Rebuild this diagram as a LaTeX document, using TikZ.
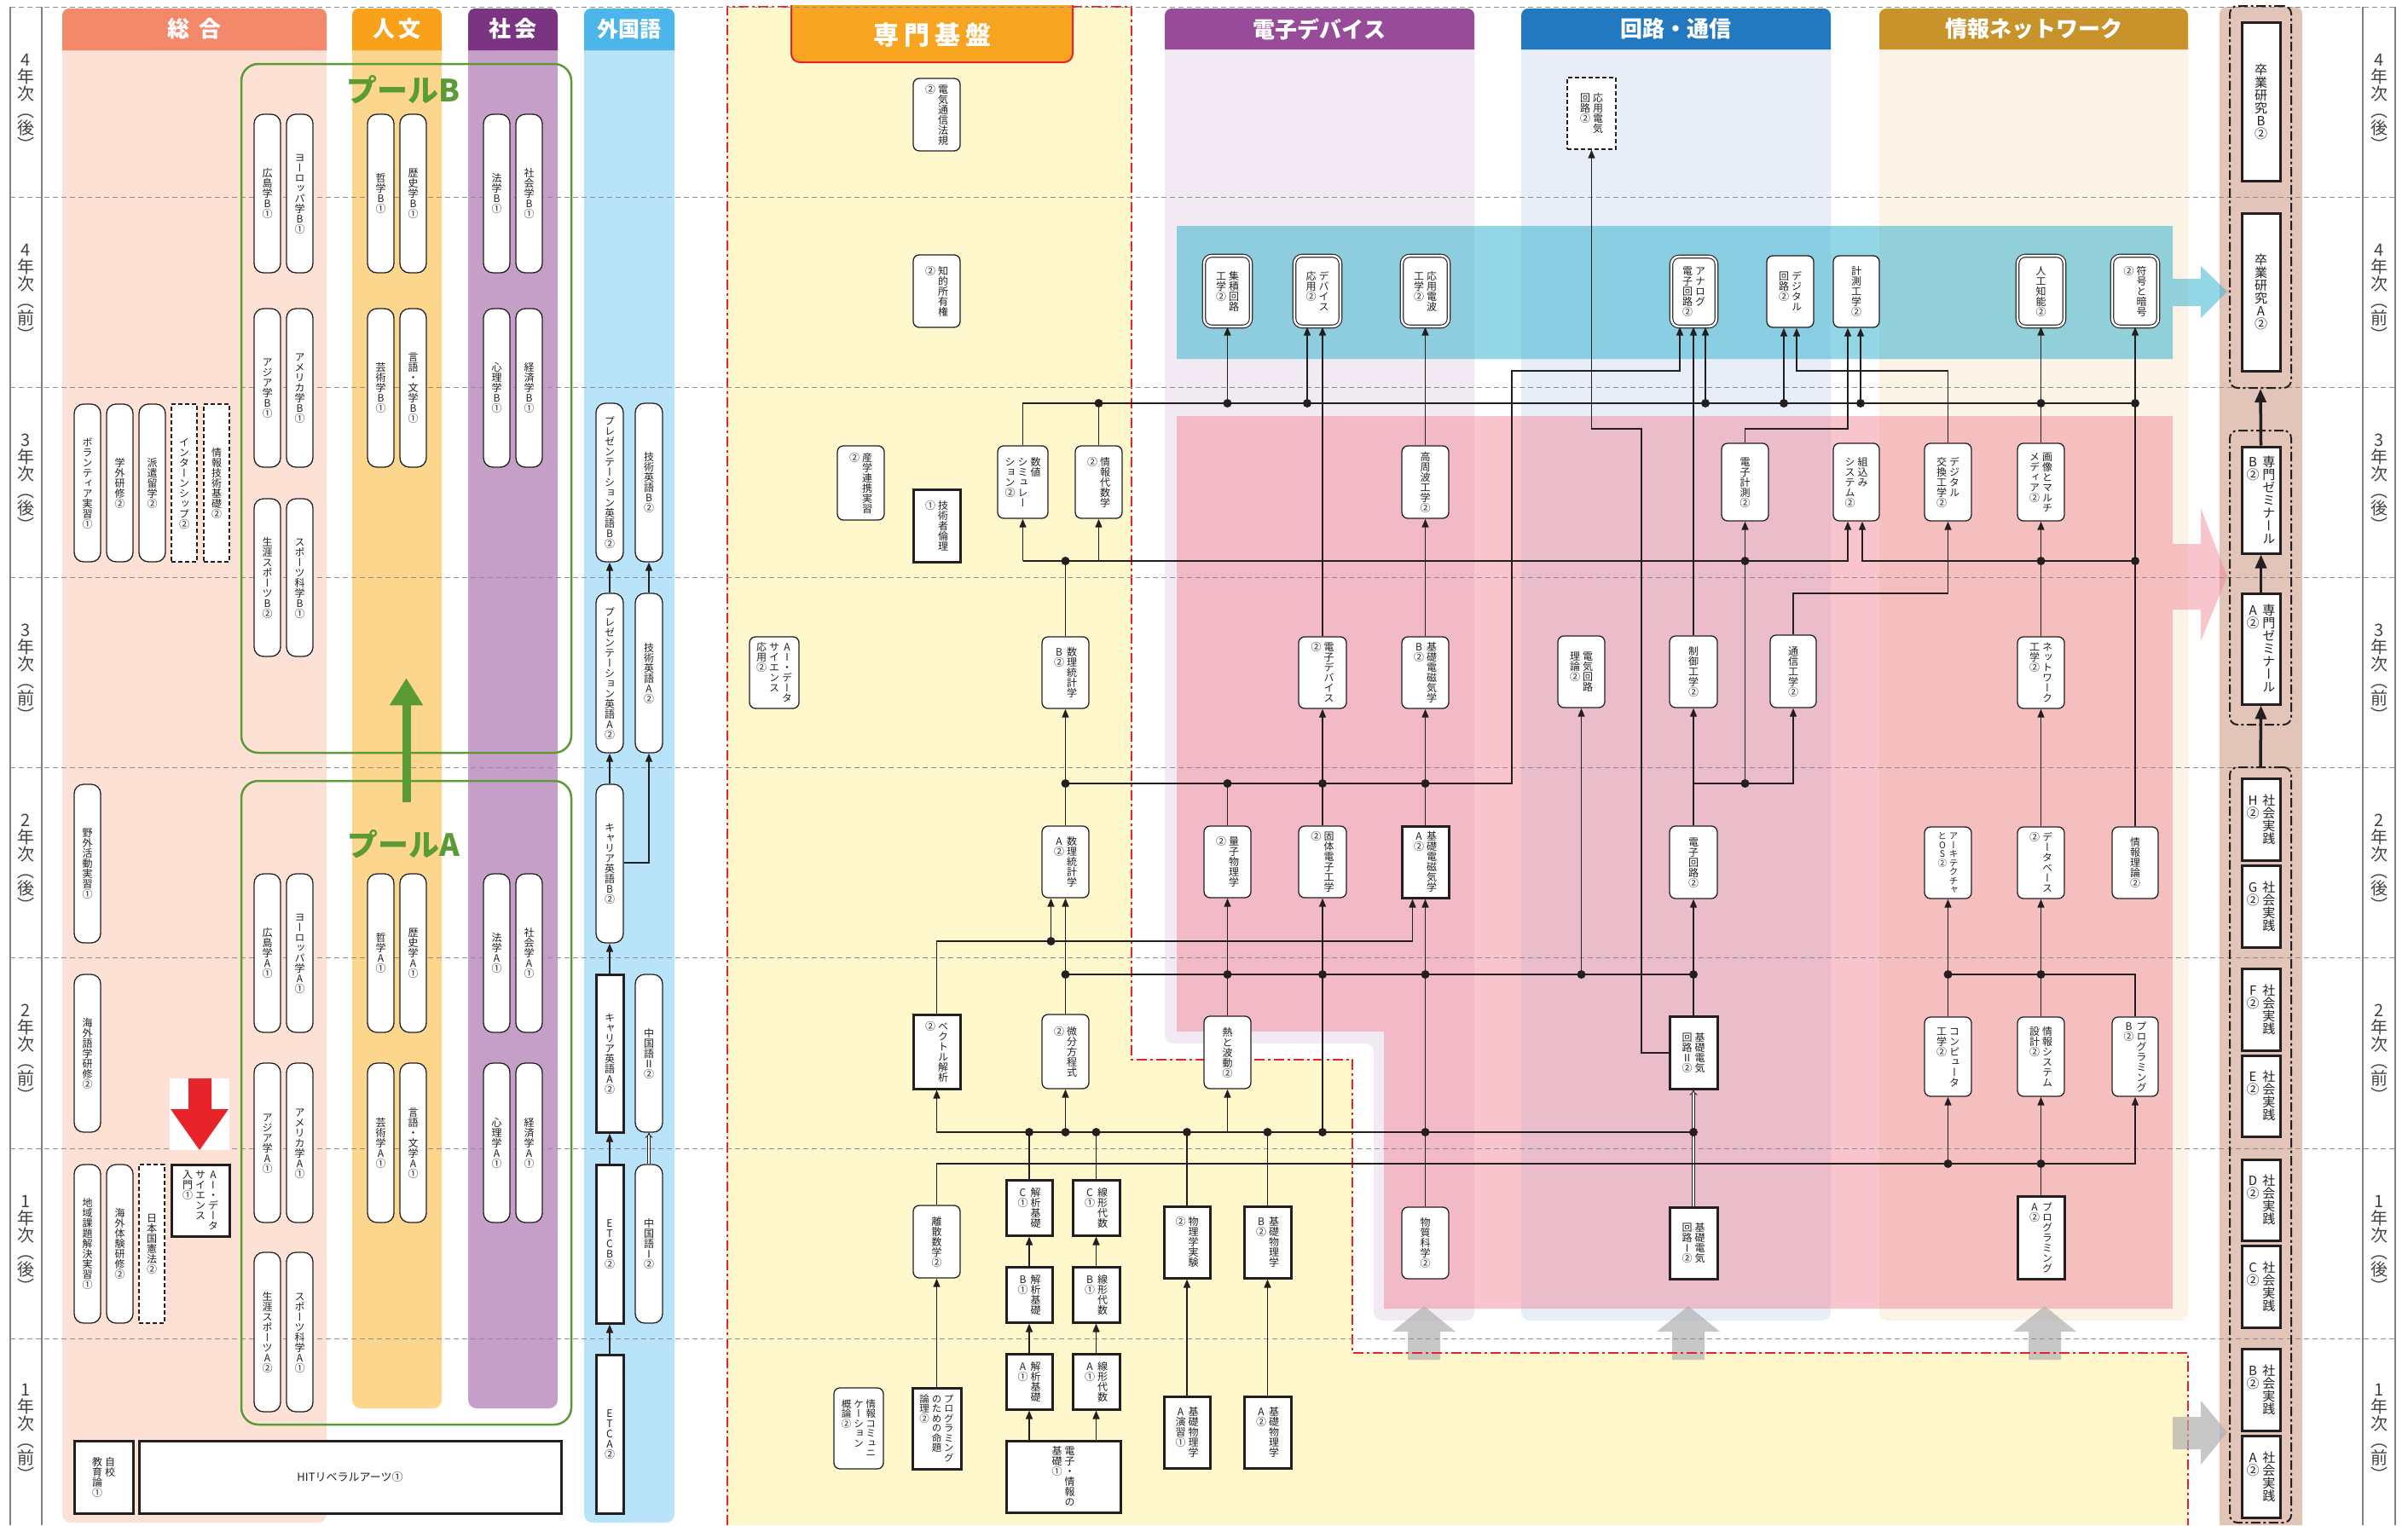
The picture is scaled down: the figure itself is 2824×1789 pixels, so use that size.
\documentclass[tikz,border=0pt]{standalone}
\usepackage{fontspec}
\setmainfont{Noto Sans CJK JP}
\newfontfamily\jp{Noto Sans CJK JP}
\newfontfamily\jpv[RawFeature=+vert]{Noto Sans CJK JP}
\usetikzlibrary{arrows.meta}
\definecolor{ink}{HTML}{231F20}
\definecolor{sogoH}{HTML}{F4886A}\definecolor{sogoB}{HTML}{FDE1D5}
\definecolor{jinH}{HTML}{F9A11B}\definecolor{jinB}{HTML}{FDD68E}
\definecolor{shaH}{HTML}{7B3481}\definecolor{shaB}{HTML}{C69FC9}
\definecolor{gaiH}{HTML}{4CB5E9}\definecolor{gaiB}{HTML}{B8E3F9}
\definecolor{yel}{HTML}{FFF8CC}\definecolor{redd}{HTML}{E8212B}\definecolor{tabO}{HTML}{F7A520}
\definecolor{edH}{HTML}{974B98}\definecolor{edB}{HTML}{F2EAF3}
\definecolor{kaH}{HTML}{2379BF}\definecolor{kaB}{HTML}{E7EEF8}
\definecolor{joH}{HTML}{C8932B}\definecolor{joB}{HTML}{FAF3E6}
\definecolor{brownC}{HTML}{E3C4B9}
\definecolor{poolG}{HTML}{5B9B35}
\definecolor{redA}{HTML}{E8242A}
\definecolor{pinkO}{HTML}{F08090}
\definecolor{tealO}{HTML}{3CB5D0}
\definecolor{grayA}{HTML}{B0B0B0}
\definecolor{rowc}{HTML}{8F8F8F}
\newdimen\tvw
\def\tvloop#1{\ifx\relax#1\else\hbox to\tvw{\hss\vrule width0pt height.88em depth.12em\relax#1\hss}\expandafter\tvloop\fi}
\newcommand\tcol[1]{\vtop{\offinterlineskip\tvloop#1\relax}}
\newcommand\tvA[1]{\hbox{\tvw=1em\relax\tcol{#1}}}
\newcommand\tvB[2]{\hbox{\tvw=1em\relax\tcol{#2}\kern.25em\tcol{#1}}}
\newcommand\tvC[3]{\hbox{\tvw=1em\relax\tcol{#3}\kern.25em\tcol{#2}\kern.25em\tcol{#1}}}
\newcommand\bx[7]{\node[#1,minimum width={#5-#3},minimum height={#6-#4}] (#2) at ({(#3+#5)/2},{(#4+#6)/2}) {#7};}
\newcommand\ylab[4]{\node[font=\jpv\fontsize{20}{20}\selectfont,text=ink!85,inner sep=0pt] (#1) at (#2,#3) {\tvA{#4}};}
\newcommand\jd[1]{\fill[ink] (#1) circle (5pt);}
\tikzset{
 base/.style={inner sep=0pt,font=\jpv\fontsize{12}{12}\selectfont,text=ink},
 rbox/.style={base,draw=ink,line width=1.3pt,rounded corners=7pt,fill=white},
 pill/.style={base,draw=ink,line width=1.3pt,rounded corners=11pt,fill=white},
 sbox/.style={base,draw=ink,line width=3pt,fill=white},
 dashbox/.style={base,draw=ink,line width=1.4pt,dash pattern=on 5pt off 3pt,fill=white},
 dbox/.style={base,draw=ink,line width=1.1pt,double=white,double distance=2.4pt,rounded corners=9pt,fill=white},
 bigbox/.style={sbox,font=\jpv\fontsize{15}{16}\selectfont},
 grp/.style={draw=ink,line width=2pt,dash pattern=on 11pt off 3.5pt on 3pt off 3.5pt,rounded corners=9pt,inner sep=0pt},
 pool/.style={draw=poolG,line width=2.5pt,rounded corners=20pt,inner sep=0pt},
 arr/.style={draw=ink,line width=1.5pt,-{Triangle[length=10pt,width=8pt]}},
 ln/.style={draw=ink,line width=1.5pt},
 dbl/.style={draw=ink,line width=0.9pt,double=white,double distance=2.2pt,-{Implies}},
 tarr/.style={draw=ink,line width=3.5pt,-{Triangle[length=16pt,width=13pt]}},
 hdr/.style={font=\jp\bfseries\fontsize{26}{26}\selectfont,text=white,inner sep=0pt},
 rowline/.style={draw=rowc,line width=1pt,dash pattern=on 6pt off 4pt},
}
\begin{document}
\begin{tikzpicture}[x=1pt,y=-1pt]
\useasboundingbox (0,0) rectangle (2824,1789);
\fill[white] (0,0) rectangle (2824,1789);
% ---------- column backgrounds ----------
\fill[sogoB,rounded corners=10pt] (73,50) -- (73,1786) -- (383,1786) -- (383,50);
\fill[sogoH,rounded corners=8pt] (73,59) -- (73,10) -- (383,10) -- (383,59);
\fill[jinB,rounded corners=10pt] (413,50) -- (413,1652) -- (518,1652) -- (518,50);
\fill[jinH,rounded corners=8pt] (413,59) -- (413,10) -- (518,10) -- (518,59);
\fill[shaB,rounded corners=10pt] (549,50) -- (549,1652) -- (654,1652) -- (654,50);
\fill[shaH,rounded corners=8pt] (549,59) -- (549,10) -- (654,10) -- (654,59);
\fill[gaiB,rounded corners=10pt] (685,50) -- (685,1786) -- (791,1786) -- (791,50);
\fill[gaiH,rounded corners=8pt] (685,59) -- (685,10) -- (791,10) -- (791,59);
\fill[yel] (853,8) -- (1327,8) -- (1327,1243) -- (1586,1243) -- (1586,1587) -- (2566,1587) -- (2566,1789) -- (853,1789) -- cycle;
\fill[edB,rounded corners=10pt] (1366,50) -- (1366,1224) -- (1611,1224) -- (1611,1549) -- (1729,1549) -- (1729,50);
\fill[edH,rounded corners=8pt] (1366,58) -- (1366,10) -- (1729,10) -- (1729,58);
\fill[kaB,rounded corners=10pt] (1784,50) -- (1784,1549) -- (2147,1549) -- (2147,50);
\fill[kaH,rounded corners=8pt] (1784,58) -- (1784,10) -- (2147,10) -- (2147,58);
\fill[joB,rounded corners=10pt] (2204,50) -- (2204,1549) -- (2566,1549) -- (2566,50);
\fill[joH,rounded corners=8pt] (2204,58) -- (2204,10) -- (2566,10) -- (2566,58);
\fill[brownC,rounded corners=8pt] (2603,1789) -- (2603,8) -- (2700,8) -- (2700,1789);
% overlays
\fill[pinkO,fill opacity=.45] (1380,488) -- (2548,488) -- (2548,1535) -- (1623,1535) -- (1623,1210) -- (1380,1210) -- cycle;
\fill[pinkO,fill opacity=.45] (2548,638) -- (2581,638) -- (2581,596) -- (2612,676) -- (2581,752) -- (2581,715) -- (2548,715) -- cycle;
\fill[tealO,fill opacity=.55] (1380,265) -- (2548,265) -- (2548,327) -- (2581,327) -- (2581,312) -- (2612,342) -- (2581,373) -- (2581,359) -- (2548,359) -- (2548,421) -- (1380,421) -- cycle;
\foreach \cx in {1670,1980,2398}{
 \fill[grayA,fill opacity=.7] (\cx-19,1595) -- (\cx-19,1562) -- (\cx-37,1562) -- (\cx,1532) -- (\cx+37,1562) -- (\cx+19,1562) -- (\cx+19,1595) -- cycle;}
% red border of 専門基盤
\draw[redd,line width=2pt,dash pattern=on 12pt off 4pt on 3pt off 4pt] (853,1789) -- (853,8) -- (1327,8) -- (1327,1243) -- (1586,1243) -- (1586,1587) -- (2566,1587) -- (2566,1789);
\fill[grayA,fill opacity=.7] (2548,1662) -- (2581,1662) -- (2581,1643) -- (2612,1680) -- (2581,1718) -- (2581,1700) -- (2548,1700) -- cycle;
\draw[redd,line width=2pt,fill=tabO,rounded corners=10pt] (928,6) -- (928,73) -- (1258,73) -- (1258,6);
% row lines
\foreach \yy in {8,231,454,677,900,1123,1347,1570}{\draw[rowline] (12,\yy) -- (2809,\yy);}
\foreach \xx in {12,49,2771,2809}{\draw[rowc!90!black,line width=1.2pt] (\xx,8) -- (\xx,1789);}
% headers
\node[hdr] (hSogo) at (228,34) {総\hspace{12pt}合};
\node[hdr] (hJin) at (465.5,34) {人\hspace{4pt}文};
\node[hdr] (hSha) at (601.5,34) {社\hspace{4pt}会};
\node[hdr,font=\jp\bfseries\fontsize{25}{25}\selectfont] (hGai) at (738,34) {外国語};
\node[hdr,font=\jp\bfseries\fontsize{30}{30}\selectfont] (hSenmon) at (1093,41) {専\hspace{6pt}門\hspace{6pt}基\hspace{6pt}盤};
\node[hdr] (hEd) at (1547.5,34) {電子デバイス};
\node[hdr] (hKa) at (1965.5,34) {回路・通信};
\node[hdr] (hJo) at (2385,34) {情報ネットワーク};
% year labels
\ylab{yl1}{30.5}{119.5}{4年次（後）}\ylab{yl2}{30.5}{342.5}{4年次（前）}
\ylab{yl3}{30.5}{565.5}{3年次（後）}\ylab{yl4}{30.5}{788.5}{3年次（前）}
\ylab{yl5}{30.5}{1011.5}{2年次（後）}\ylab{yl6}{30.5}{1235}{2年次（前）}
\ylab{yl7}{30.5}{1458.5}{1年次（後）}\ylab{yl8}{30.5}{1679.5}{1年次（前）}
\ylab{yr1}{2790}{119.5}{4年次（後）}\ylab{yr2}{2790}{342.5}{4年次（前）}
\ylab{yr3}{2790}{565.5}{3年次（後）}\ylab{yr4}{2790}{788.5}{3年次（前）}
\ylab{yr5}{2790}{1011.5}{2年次（後）}\ylab{yr6}{2790}{1235}{2年次（前）}
\ylab{yr7}{2790}{1458.5}{1年次（後）}\ylab{yr8}{2790}{1679.5}{1年次（前）}
% pools
\bx{pool}{poolB}{283}{75}{670}{883}{}
\bx{pool}{poolA}{283}{916}{670}{1671}{}
\node[font=\jp\bfseries\fontsize{36}{36}\selectfont,text=poolG,inner sep=0pt] (tPoolB) at (473,105) {プールB};
\node[font=\jp\bfseries\fontsize{36}{36}\selectfont,text=poolG,inner sep=0pt] (tPoolA) at (473,990) {プールA};
\draw[poolG,line width=10pt,-{Triangle[length=32pt,width=37pt]}] ([yshift=-26pt]poolA.north) -- ([yshift=89pt]poolB.south);
% ---------- 総合 ----------
\bx{pill}{vol}{87}{474}{118}{659}{\tvA{ボランティア実習①}}
\bx{pill}{gakugai}{125}{474}{156}{659}{\tvA{学外研修②}}
\bx{pill}{haken}{163}{474}{194}{659}{\tvA{派遣留学②}}
\bx{dashbox}{intern}{201}{474}{231}{659}{\tvA{インターンシップ②}}
\bx{dashbox}{jgk}{239}{474}{269}{659}{\tvA{情報技術基礎②}}
\bx{pill}{yagai}{87}{920}{118}{1106}{\tvA{野外活動実習①}}
\bx{pill}{kaigaigo}{87}{1143}{118}{1328}{\tvA{海外語学研修②}}
\bx{pill}{chiiki}{87}{1366}{118}{1552}{\tvA{地域課題解決実習①}}
\bx{pill}{kaigaitai}{125}{1366}{156}{1552}{\tvA{海外体験研修②}}
\bx{dashbox}{kenpou}{163}{1366}{193}{1552}{\tvA{日本国憲法②}}
\bx{sbox}{aiintro}{201}{1366}{269}{1450}{\tvC{AI・データ}{サイエンス}{入門①}}
\bx{sbox}{jikou}{87}{1690}{156}{1775}{\tvB{自校}{教育論①}}
\bx{sbox,font=\jp\fontsize{13}{14}\selectfont}{hit}{163}{1690}{658}{1775}{HITリベラルアーツ①}
\fill[white] (199,1265) rectangle (269,1349);
\fill[redA] (221,1265) -- (248,1265) -- (248,1301) -- (268,1301) -- (234,1349) -- (200,1301) -- (221,1301) -- cycle;
% ---------- pools ----------
\bx{pill}{pb1}{298}{134}{329}{320}{\tvA{広島学B①}}
\bx{pill}{pb2}{336}{134}{367}{320}{\tvA{ヨーロッパ学B①}}
\bx{pill}{pb3}{431}{134}{462}{320}{\tvA{哲学B①}}
\bx{pill}{pb4}{469}{134}{500}{320}{\tvA{歴史学B①}}
\bx{pill}{pb5}{567}{134}{598}{320}{\tvA{法学B①}}
\bx{pill}{pb6}{605}{134}{636}{320}{\tvA{社会学B①}}
\bx{pill}{pb7}{298}{362}{329}{548}{\tvA{アジア学B①}}
\bx{pill}{pb8}{336}{362}{367}{548}{\tvA{アメリカ学B①}}
\bx{pill}{pb9}{431}{362}{462}{548}{\tvA{芸術学B①}}
\bx{pill}{pb10}{469}{362}{500}{548}{\tvA{言語・文学B①}}
\bx{pill}{pb11}{567}{362}{598}{548}{\tvA{心理学B①}}
\bx{pill}{pb12}{605}{362}{636}{548}{\tvA{経済学B①}}
\bx{pill}{pb13}{298}{585}{329}{770}{\tvA{生涯スポーツB②}}
\bx{pill}{pb14}{336}{585}{367}{770}{\tvA{スポーツ科学B①}}
\bx{pill}{pa1}{298}{1025}{329}{1211}{\tvA{広島学A①}}
\bx{pill}{pa2}{336}{1025}{367}{1211}{\tvA{ヨーロッパ学A①}}
\bx{pill}{pa3}{431}{1025}{462}{1211}{\tvA{哲学A①}}
\bx{pill}{pa4}{469}{1025}{500}{1211}{\tvA{歴史学A①}}
\bx{pill}{pa5}{567}{1025}{598}{1211}{\tvA{法学A①}}
\bx{pill}{pa6}{605}{1025}{636}{1211}{\tvA{社会学A①}}
\bx{pill}{pa7}{298}{1247}{329}{1434}{\tvA{アジア学A①}}
\bx{pill}{pa8}{336}{1247}{367}{1434}{\tvA{アメリカ学A①}}
\bx{pill}{pa9}{431}{1247}{462}{1434}{\tvA{芸術学A①}}
\bx{pill}{pa10}{469}{1247}{500}{1434}{\tvA{言語・文学A①}}
\bx{pill}{pa11}{567}{1247}{598}{1434}{\tvA{心理学A①}}
\bx{pill}{pa12}{605}{1247}{636}{1434}{\tvA{経済学A①}}
\bx{pill}{pa13}{298}{1469}{329}{1656}{\tvA{生涯スポーツA②}}
\bx{pill}{pa14}{336}{1469}{367}{1656}{\tvA{スポーツ科学A①}}
% ---------- 外国語 ----------
\bx{pill}{preB}{699}{473}{731}{659}{\tvA{プレゼンテーション英語B②}}
\bx{pill}{gijB}{745}{473}{777}{659}{\tvA{技術英語B②}}
\bx{pill}{preA}{699}{696}{731}{883}{\tvA{プレゼンテーション英語A②}}
\bx{pill}{gijA}{745}{696}{777}{883}{\tvA{技術英語A②}}
\bx{pill}{carB}{699}{920}{731}{1106}{\tvA{キャリア英語B②}}
\bx{sbox}{carA}{699}{1143}{731}{1328}{\tvA{キャリア英語A②}}
\bx{pill}{chi2}{745}{1143}{777}{1328}{\tvA{中国語Ⅱ②}}
\bx{sbox}{etcb}{699}{1366}{731}{1552}{\tvA{ETCB②}}
\bx{pill}{chi1}{745}{1366}{777}{1552}{\tvA{中国語Ⅰ②}}
\bx{sbox}{etca}{699}{1589}{731}{1775}{\tvA{ETCA②}}
% ---------- 専門基盤 ----------
\bx{rbox}{houki}{1071}{92}{1126}{177}{\tvB{電気通信法規}{②}}
\bx{rbox}{chiteki}{1071}{299}{1126}{384}{\tvB{知的所有権}{②}}
\bx{rbox}{sangaku}{982}{523}{1037}{610}{\tvB{産学連携実習}{②}}
\bx{sbox}{rinri}{1071}{574}{1126}{659}{\tvB{技術者倫理}{①}}
\bx{rbox}{suuchi}{1170}{523}{1229}{608}{\tvC{数値}{シミュレー}{ション②}}
\bx{rbox}{jdai}{1261}{523}{1316}{608}{\tvB{情報代数学}{②}}
\bx{rbox}{aiapp}{879}{747}{937}{831}{\tvC{AI・データ}{サイエンス}{応用②}}
\bx{rbox}{toukeiB}{1222}{747}{1277}{831}{\tvB{数理統計学}{B②}}
\bx{rbox}{toukeiA}{1222}{969}{1277}{1053}{\tvB{数理統計学}{A②}}
\bx{sbox}{vec}{1071}{1190}{1126}{1277}{\tvB{ベクトル解析}{②}}
\bx{rbox}{bibun}{1222}{1190}{1277}{1277}{\tvB{微分方程式}{②}}
\bx{rbox}{risan}{1071}{1414}{1126}{1499}{\tvA{離散数学②}}
\bx{sbox}{kaiC}{1180}{1384}{1234}{1449}{\tvB{解析基礎}{C①}}
\bx{sbox}{senC}{1258}{1384}{1313}{1449}{\tvB{線形代数}{C①}}
\bx{sbox}{kaiB}{1180}{1486}{1234}{1551}{\tvB{解析基礎}{B①}}
\bx{sbox}{senB}{1258}{1486}{1313}{1551}{\tvB{線形代数}{B①}}
\bx{sbox}{kaiA}{1180}{1588}{1234}{1653}{\tvB{解析基礎}{A①}}
\bx{sbox}{senA}{1258}{1588}{1313}{1653}{\tvB{線形代数}{A①}}
\bx{sbox}{denjo}{1180}{1690}{1314}{1774}{\tvB{電子・情報の}{基礎①}}
\bx{rbox,font=\jpv\fontsize{11.5}{12}\selectfont}{jcomm}{978}{1628}{1036}{1723}{\tvC{情報コミュニ}{ケーション}{概論②}}
\bx{sbox,font=\jpv\fontsize{11.5}{12}\selectfont}{meidai}{1070}{1628}{1127}{1723}{\tvC{プログラミング}{のための命題}{論理②}}
\bx{sbox}{butsuJ}{1365}{1415}{1419}{1499}{\tvB{物理学実験}{②}}
\bx{sbox}{kbB}{1459}{1415}{1514}{1499}{\tvB{基礎物理学}{B②}}
\bx{sbox}{kbEn}{1365}{1638}{1419}{1722}{\tvB{基礎物理学}{A演習①}}
\bx{sbox}{kbA}{1459}{1638}{1514}{1722}{\tvB{基礎物理学}{A②}}
% ---------- 電子デバイス ----------
\bx{rbox}{netsu}{1412}{1192}{1467}{1277}{\tvA{熱と波動②}}
\bx{rbox}{ryoushi}{1412}{969}{1467}{1053}{\tvB{量子物理学}{②}}
\bx{rbox}{kotai}{1523}{969}{1579}{1053}{\tvB{固体電子工学}{②}}
\bx{sbox}{emA}{1644}{969}{1699}{1053}{\tvB{基礎電磁気学}{A②}}
\bx{rbox}{edev}{1523}{747}{1579}{831}{\tvB{電子デバイス}{②}}
\bx{rbox}{emB}{1644}{747}{1699}{831}{\tvB{基礎電磁気学}{B②}}
\bx{rbox}{kousyuu}{1644}{523}{1699}{608}{\tvA{高周波工学②}}
\bx{rbox}{busshitsu}{1644}{1416}{1699}{1500}{\tvA{物質科学②}}
\bx{dbox}{shuseki}{1412}{300}{1467}{383}{\tvB{集積回路}{工学②}}
\bx{dbox}{devo}{1518}{300}{1572}{383}{\tvB{デバイス}{応用②}}
\bx{dbox}{denpa}{1644}{300}{1699}{383}{\tvB{応用電波}{工学②}}
% ---------- 回路・通信 ----------
\bx{dashbox}{ouden}{1838}{91}{1895}{175}{\tvB{応用電気}{回路②}}
\bx{dbox}{analog}{1960}{301}{2013}{383}{\tvB{アナログ}{電子回路②}}
\bx{rbox}{kairiron}{1827}{746}{1882}{830}{\tvB{電気回路}{理論②}}
\bx{rbox}{seigyo}{1958}{746}{2014}{830}{\tvA{制御工学②}}
\bx{rbox}{dkairo}{1958}{969}{2014}{1054}{\tvA{電子回路②}}
\bx{sbox}{denkai2}{1958}{1192}{2014}{1277}{\tvB{基礎電気}{回路Ⅱ②}}
\bx{sbox}{denkai1}{1958}{1416}{2014}{1500}{\tvB{基礎電気}{回路Ⅰ②}}
\bx{rbox}{densok}{2019}{520}{2074}{611}{\tvA{電子計測②}}
\bx{rbox}{digc}{2072}{300}{2127}{384}{\tvB{デジタル}{回路②}}
\bx{rbox}{keisoku}{2150}{300}{2204}{384}{\tvA{計測工学②}}
\bx{rbox}{kumikomi}{2150}{520}{2204}{611}{\tvB{組込み}{システム②}}
\bx{rbox}{tsushin}{2076}{745}{2130}{830}{\tvA{通信工学②}}
% ---------- 情報ネットワーク ----------
\bx{rbox}{dkoukan}{2257}{520}{2312}{611}{\tvB{デジタル}{交換工学②}}
\bx{rbox}{gazou}{2366}{520}{2421}{611}{\tvB{画像とマルチ}{メディア②}}
\bx{dbox}{jinkou}{2366}{300}{2421}{383}{\tvA{人工知能②}}
\bx{dbox}{fugo}{2477}{300}{2531}{383}{\tvB{符号と暗号}{②}}
\bx{rbox}{network}{2366}{747}{2421}{831}{\tvB{ネットワーク}{工学②}}
\bx{rbox,font=\jpv\fontsize{10.5}{11}\selectfont}{arch}{2257}{970}{2312}{1054}{\tvB{アーキテクチャ}{とOS②}}
\bx{rbox}{db}{2366}{970}{2421}{1054}{\tvB{データベース}{②}}
\bx{rbox}{jouri}{2477}{970}{2531}{1054}{\tvA{情報理論②}}
\bx{rbox}{comp}{2257}{1193}{2312}{1286}{\tvB{コンピュータ}{工学②}}
\bx{rbox}{jsys}{2366}{1193}{2421}{1286}{\tvB{情報システム}{設計②}}
\bx{rbox}{progB}{2477}{1193}{2531}{1286}{\tvB{プログラミング}{B②}}
\bx{sbox}{progA}{2366}{1403}{2421}{1500}{\tvB{プログラミング}{A②}}
% ---------- right column ----------
\bx{grp}{g1}{2615}{7}{2687}{455}{}
\bx{grp}{g2}{2615}{505}{2687}{850}{}
\bx{grp}{g3}{2615}{900}{2687}{1786}{}
\bx{bigbox}{sotsuB}{2629}{26}{2674}{212}{\tvA{卒業研究B②}}
\bx{bigbox}{sotsuA}{2629}{250}{2674}{435}{\tvA{卒業研究A②}}
\bx{bigbox}{zemiB}{2629}{524}{2674}{649}{\tvB{専門ゼミナール}{B②}}
\bx{bigbox}{zemiA}{2629}{696}{2674}{826}{\tvB{専門ゼミナール}{A②}}
\bx{bigbox}{shaH}{2629}{913}{2674}{1009}{\tvB{社会実践}{H②}}
\bx{bigbox}{shaG}{2629}{1015}{2674}{1111}{\tvB{社会実践}{G②}}
\bx{bigbox}{shaF}{2629}{1136}{2674}{1232}{\tvB{社会実践}{F②}}
\bx{bigbox}{shaE}{2629}{1238}{2674}{1333}{\tvB{社会実践}{E②}}
\bx{bigbox}{shaD}{2629}{1360}{2674}{1455}{\tvB{社会実践}{D②}}
\bx{bigbox}{shaC}{2629}{1461}{2674}{1557}{\tvB{社会実践}{C②}}
\bx{bigbox}{shaB}{2629}{1582}{2674}{1678}{\tvB{社会実践}{B②}}
\bx{bigbox}{shaA}{2629}{1684}{2674}{1780}{\tvB{社会実践}{A②}}
\draw[tarr] (zemiB.north) -- (g1.south);
\draw[tarr] (zemiA.north) -- (zemiB.south);
\draw[tarr] (g3.north) -- (zemiA.south);
% ---------- level coordinates ----------
\coordinate (L435) at (0,435);\coordinate (L473) at (0,473);\coordinate (L503) at (0,503);
\coordinate (L658) at (0,658);\coordinate (L696) at (0,696);\coordinate (L919) at (0,919);
\coordinate (L1012) at (0,1012);\coordinate (L1104) at (0,1104);\coordinate (L1143) at (0,1143);
\coordinate (L1235) at (0,1235);\coordinate (L1328) at (0,1328);\coordinate (L1365) at (0,1365);
\coordinate (X1773) at (1773,0);\coordinate (X1925) at (1925,0);
\coordinate (devoL) at ([xshift=-12pt]devo.south);
\coordinate (anaL) at ([xshift=-16.5pt]analog.south);
\coordinate (anaR) at ([xshift=13.5pt]analog.south);
\coordinate (digL) at ([xshift=-7.5pt]digc.south);
\coordinate (digR) at ([xshift=7.5pt]digc.south);
\coordinate (keiL) at ([xshift=-10pt]keisoku.south);
\coordinate (keiR) at ([xshift=5pt]keisoku.south);
\coordinate (kumL) at ([xshift=-10pt]kumikomi.south);
\coordinate (kumR) at ([xshift=7pt]kumikomi.south);
\coordinate (toukL) at ([xshift=-17pt]toukeiA.south);
\coordinate (emAL) at ([xshift=-15pt]emA.south);
% ---------- 外国語 connectors ----------
\draw[arr] (etca.north) -- (etcb.south);
\draw[arr] (etcb.north) -- (carA.south);
\draw[arr] (carA.north) -- (carB.south);
\draw[arr] (carB.north) -- (preA.south);
\draw[arr] (carB.east |- L1012) -| (gijA.south);
\draw[arr] (preA.north) -- (preB.south);
\draw[arr] (gijA.north) -- (gijB.south);
\draw[dbl] (chi1.north) -- (chi2.south);
% ---------- H1 ----------
\draw[ln] (suuchi.north) |- (fugo.south |- L473);
\draw[ln] (jdai.north) -- (jdai.north |- L473);
\draw[arr] (shuseki.south |- L473) -- (shuseki.south);
\draw[arr] (devoL |- L473) -- (devoL);
\draw[arr] (anaR |- L473) -- (anaR);
\draw[arr] (digL |- L473) -- (digL);
\draw[arr] (keiR |- L473) -- (keiR);
\draw[arr] (gazou.north) -- (jinkou.south);
\draw[arr] (jouri.north) -- (fugo.south);
% ---------- H2 ----------
\draw[arr] (suuchi.south |- L658) -| (kumL);
\draw[arr] (suuchi.south |- L658) -- (suuchi.south);
\draw[arr] (jdai.south |- L658) -- (jdai.south);
\draw[ln] (toukeiB.north) -- (toukeiB.north |- L658);
\draw[arr] (densok.south |- L919) -- (densok.south);
\draw[arr] (jouri.north |- L658) -| (kumR);
\draw[arr] (network.north) -- (gazou.south);
% ---------- H3 ----------
\draw[arr] (toukeiA.north) -- (toukeiB.south);
\draw[arr] (toukeiA.north |- L919) -| (X1773 |- L435) -| (anaL);
\draw[ln] (ryoushi.north) -- (ryoushi.north |- L919);
\draw[arr] (kotai.north) -- (edev.south);
\draw[arr] (emA.north) -- (emB.south);
\draw[arr] (emB.north) -- (kousyuu.south);
\draw[arr] (kousyuu.north) -- (denpa.south);
\draw[arr] (edev.north) -- (edev.north |- devo.south);
% ---------- H4 ----------
\draw[arr] (vec.north) |- (emAL |- L1104) -- (emAL);
\draw[arr] (toukL |- L1104) -- (toukL);
% ---------- H5 ----------
\draw[ln] (bibun.north |- L1143) -- (denkai2.north |- L1143);
\draw[arr] (bibun.north) -- (toukeiA.south);
\draw[arr] (netsu.north) -- (ryoushi.south);
\draw[arr] (kotai.south |- L1328) -- (kotai.south);
\draw[arr] (busshitsu.north) -- (emA.south);
\draw[arr] (kairiron.south |- L1143) -- (kairiron.south);
\draw[arr] (denkai2.north) -- (dkairo.south);
% ---------- H6 ----------
\draw[arr] (denkai2.south |- L1328) -- (vec.south |- L1328) -- (vec.south);
\draw[arr] (bibun.south |- L1328) -- (bibun.south);
\draw[arr] (netsu.south |- L1328) -- (netsu.south);
\draw[ln] (kaiC.north) -- (kaiC.north |- L1328);
\draw[ln] (senC.north) -- (senC.north |- L1328);
\draw[ln] (butsuJ.north) -- (butsuJ.north |- L1328);
\draw[ln] (kbB.north) -- (kbB.north |- L1328);
\draw[arr] (kaiA.north) -- (kaiB.south);
\draw[arr] (kaiB.north) -- (kaiC.south);
\draw[arr] (senA.north) -- (senB.south);
\draw[arr] (senB.north) -- (senC.south);
\draw[arr] (denjo.north -| kaiA.south) -- (kaiA.south);
\draw[arr] (denjo.north -| senA.south) -- (senA.south);
\draw[arr] (meidai.north) -- (risan.south);
\draw[arr] (kbEn.north) -- (butsuJ.south);
\draw[arr] (kbA.north) -- (kbB.south);
\draw[dbl] (denkai1.north) -- (denkai2.south);
% ---------- H7 and info ----------
\draw[arr] (risan.north) |- (progB.south |- L1365) -- (progB.south);
\draw[arr] (comp.south |- L1365) -- (comp.south);
\draw[arr] (progA.north) -- (jsys.south);
\draw[ln] (progB.north) |- (comp.north |- L1143);
\draw[arr] (comp.north) -- (arch.south);
\draw[arr] (jsys.north) -- (db.south);
\draw[arr] (db.north) -- (network.south);
% ---------- others ----------
\draw[arr] (dkairo.north) -- (seigyo.south);
\draw[arr] (dkairo.north |- L919) -| (tsushin.south);
\draw[arr] (seigyo.north) -- (seigyo.north |- analog.south);
\draw[arr] (tsushin.north) |- (dkoukan.south |- L696) -- (dkoukan.south);
\draw[arr] (dkoukan.north) |- (digR |- L435) -- (digR);
\draw[arr] (densok.north) |- (keiL |- L503) -- (keiL);
\draw[arr] (denkai2.west |- L1235) -| (X1925 |- L503) -| (ouden.south);
% ---------- junction dots ----------
\jd{jdai.north |- L473}\jd{shuseki.south |- L473}\jd{devoL |- L473}\jd{anaR |- L473}
\jd{digL |- L473}\jd{keiR |- L473}\jd{gazou.north |- L473}\jd{jouri.north |- L473}
\jd{toukeiB.north |- L658}\jd{densok.south |- L658}\jd{network.north |- L658}\jd{jouri.north |- L658}
\jd{toukeiA.north |- L919}\jd{ryoushi.north |- L919}\jd{kotai.north |- L919}\jd{emA.north |- L919}\jd{densok.south |- L919}
\jd{toukL |- L1104}
\jd{bibun.north |- L1143}\jd{netsu.north |- L1143}\jd{kotai.south |- L1143}\jd{emA.south |- L1143}
\jd{kairiron.south |- L1143}\jd{denkai2.north |- L1143}
\jd{kaiC.north |- L1328}\jd{bibun.south |- L1328}\jd{senC.north |- L1328}\jd{butsuJ.north |- L1328}
\jd{kbB.north |- L1328}\jd{kotai.south |- L1328}\jd{busshitsu.north |- L1328}\jd{denkai2.south |- L1328}
\jd{comp.south |- L1365}\jd{progA.north |- L1365}
\jd{comp.north |- L1143}\jd{jsys.north |- L1143}
\end{tikzpicture}
\end{document}
